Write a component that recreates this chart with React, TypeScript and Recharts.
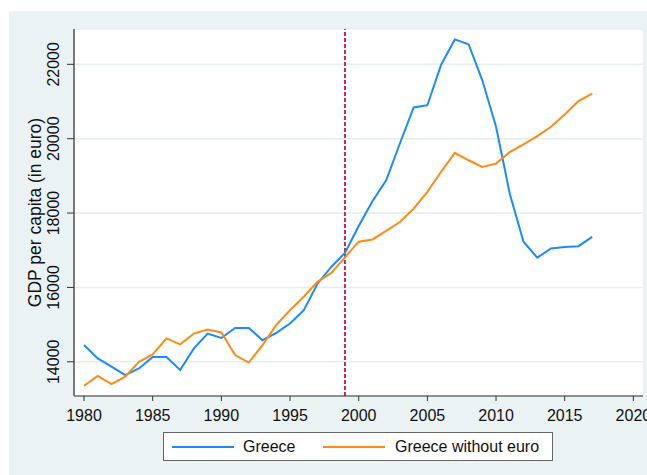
import React from 'react';
import { LineChart, Line, XAxis, YAxis, CartesianGrid, ReferenceLine, Label } from 'recharts';

const years = [1980,1981,1982,1983,1984,1985,1986,1987,1988,1989,1990,1991,1992,1993,1994,1995,1996,1997,1998,1999,2000,2001,2002,2003,2004,2005,2006,2007,2008,2009,2010,2011,2012,2013,2014,2015,2016,2017];
const greece = [14450,14090,13870,13640,13820,14130,14130,13780,14360,14760,14640,14910,14910,14580,14780,15030,15390,16100,16550,16930,17650,18320,18880,19870,20840,20900,21990,22670,22540,21570,20320,18520,17230,16800,17050,17090,17110,17360];
const greeceWithoutEuro = [13355,13620,13400,13600,14000,14200,14630,14470,14760,14870,14790,14180,13980,14450,14990,15390,15750,16150,16390,16810,17230,17290,17520,17760,18120,18570,19110,19620,19420,19240,19330,19640,19850,20070,20320,20650,21010,21210];
const xTicks = [1980,1985,1990,1995,2000,2005,2010,2015,2020];
const yTicks = [14000,16000,18000,20000,22000];
const euroYear = 1999;
const seriesNames = ['Greece', 'Greece without euro'];
const seriesColors = ['#1a8cff', '#ff8a14'];
const yLabel = 'GDP per capita (in euro)';

const data = years.map((y, i) => ({ year: y, greece: greece[i], noEuro: greeceWithoutEuro[i] }));

const FONT = '"Liberation Sans", Arial, sans-serif';

const YTick = (props: any) => {
  const { x, y, payload } = props;
  return (
    <text x={x} y={y} dy="0.36em" textAnchor="middle" fontSize={16} fontFamily={FONT} fill="#111"
      transform={`rotate(-90, ${x}, ${y})`}>
      {payload.value}
    </text>
  );
};

const YLabelContent = (props: any) => {
  const { viewBox } = props;
  const cx = 26;
  const cy = viewBox.y + viewBox.height / 2;
  return (
    <text x={cx} y={cy} dy="0.36em" textAnchor="middle" fontSize={17.5} fontFamily={FONT} fill="#111"
      transform={`rotate(-90, ${cx}, ${cy})`}>
      {yLabel}
    </text>
  );
};

export default function App() {
  return (
    <div style={{ position: 'absolute', left: 0, top: 0, width: 647, height: 475, background: '#ffffff', overflow: 'hidden' }}>
      <div style={{ position: 'absolute', left: 9, top: 11, width: 638, height: 464, background: '#eaf2f3' }}>
        <LineChart width={638} height={464} data={data} margin={{ top: 18, right: 4, bottom: 49, left: 0 }}>
          <CartesianGrid vertical={false} stroke="#e6eef0" strokeWidth={1.5} fill="#ffffff" fillOpacity={1} />
          <XAxis dataKey="year" type="number" domain={[1979.27, 2020.7]} ticks={xTicks} allowDataOverflow
            height={30} tickSize={5} tickMargin={9} interval={0}
            axisLine={{ stroke: '#333333', strokeWidth: 1 }} tickLine={{ stroke: '#333333' }}
            tick={{ fill: '#111', fontSize: 16, fontFamily: FONT }} />
          <YAxis type="number" domain={[13080, 22950]} ticks={yTicks} allowDataOverflow width={65}
            tickSize={7} tickMargin={14} interval={0}
            axisLine={{ stroke: '#7a7a7a', strokeWidth: 2 }} tickLine={{ stroke: '#333333' }}
            tick={<YTick />}>
            <Label content={<YLabelContent />} />
          </YAxis>
          <ReferenceLine x={euroYear} stroke="#cc1447" strokeWidth={1.8} strokeDasharray="4 2" />
          <Line type="linear" dataKey="greece" stroke={seriesColors[0]} strokeWidth={2} dot={false} isAnimationActive={false} />
          <Line type="linear" dataKey="noEuro" stroke={seriesColors[1]} strokeWidth={2} dot={false} isAnimationActive={false} />
        </LineChart>
      </div>
      <div style={{ position: 'absolute', left: 163, top: 432, width: 388, height: 27, background: '#ffffff', border: '1px solid #666666', fontFamily: FONT, fontSize: 16, color: '#111' }}>
        <div style={{ position: 'absolute', left: 8, top: 13, width: 62, height: 2, background: seriesColors[0] }} />
        <div style={{ position: 'absolute', left: 79, top: 4, lineHeight: '20px', whiteSpace: 'nowrap' }}>{seriesNames[0]}</div>
        <div style={{ position: 'absolute', left: 159, top: 13, width: 62, height: 2, background: seriesColors[1] }} />
        <div style={{ position: 'absolute', left: 231, top: 4, lineHeight: '20px', whiteSpace: 'nowrap' }}>{seriesNames[1]}</div>
      </div>
    </div>
  );
}
